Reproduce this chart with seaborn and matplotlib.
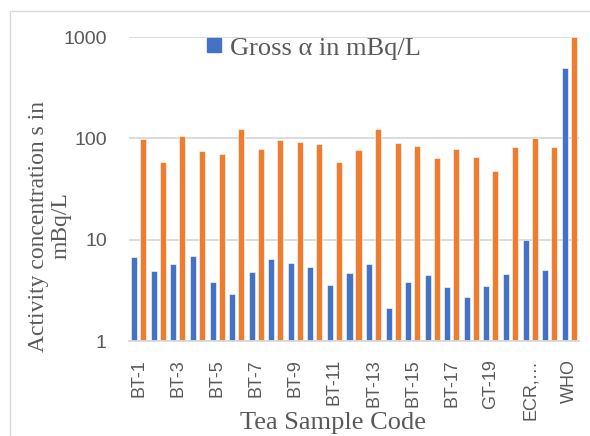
import matplotlib
matplotlib.use("Agg")
import matplotlib.pyplot as plt
import seaborn as sns
import pandas as pd
from matplotlib.patches import Rectangle
from matplotlib.lines import Line2D

categories = ["BT-1", "BT-2", "BT-3", "BT-4", "BT-5", "BT-6", "BT-7", "BT-8", "BT-9",
              "BT-10", "BT-11", "BT-12", "BT-13", "BT-14", "BT-15", "BT-16", "BT-17",
              "BT-18", "GT-19", "GT-20", "ECR,…", "ECR-2", "WHO"]
gross_alpha = [6.7, 4.9, 5.8, 6.9, 3.8, 2.9, 4.8, 6.5, 5.9, 5.4, 3.6, 4.7,
               5.8, 2.1, 3.8, 4.5, 3.4, 2.7, 3.5, 4.6, 10.0, 5.0, 500]
gross_beta = [98, 58, 105, 75, 70, 125, 78, 97, 93, 88, 59, 77,
              125, 89, 84, 64, 78, 66, 48, 83, 101, 82, 1000]
series_names = ["Gross α in mBq/L", "Gross β in mBq/L"]
colors = ["#4472C4", "#ED7D31"]

df = pd.DataFrame({
    "Sample": categories * 2,
    "Value": gross_alpha + gross_beta,
    "Series": [series_names[0]] * len(categories) + [series_names[1]] * len(categories),
})

sns.set_style("white")
fig = plt.figure(figsize=(5.9, 4.36), dpi=100)
ax = fig.add_axes([129/590, 1 - 341/436, 450/590, 304/436])

sns.barplot(data=df, x="Sample", y="Value", hue="Series", order=categories,
            hue_order=series_names, palette=colors, width=0.92, gap=0.33,
            edgecolor="white", linewidth=0.4, saturation=1, ax=ax, legend=False)
ax.set_yscale("log")
ax.set_ylim(1, 1000)
ax.set_xlim(-0.5, len(categories) - 0.5)
ax.set_yticks([1, 10, 100, 1000])
ax.set_yticklabels(["1", "10", "100", "1000"])
ax.minorticks_off()
ax.yaxis.grid(True, color="#D9D9D9", linewidth=1.3)
ax.set_axisbelow(True)
for s in ["left", "right", "top"]:
    ax.spines[s].set_visible(False)
ax.spines["bottom"].set_color("#D9D9D9")
ax.spines["bottom"].set_linewidth(1.3)

ticks = list(range(0, len(categories), 2))
ax.set_xticks(ticks)
ax.set_xticklabels([categories[i] for i in ticks], rotation=90,
                   fontfamily="Liberation Sans", fontsize=13, color="#595959",
                   va="top", ha="center")
ax.tick_params(axis="x", length=0, pad=13)
ax.tick_params(axis="y", length=0, pad=16, labelsize=14, labelcolor="#595959")
for t in ax.get_yticklabels():
    t.set_fontfamily("Liberation Sans")

ax.set_xlabel("")
ax.set_ylabel("")
fig.text(333/590, 1 - 423/436, "Tea Sample Code", ha="center", va="center",
         fontfamily="Liberation Serif", fontsize=19, color="#595959")
fig.text(50/590, 1 - 226/436, "Activity concentration s in\nmBq/L", ha="center",
         va="center", rotation=90, multialignment="center",
         fontfamily="Liberation Serif", fontsize=17, color="#595959", linespacing=1.1)

handle = Line2D([], [], marker="s", linestyle="none", markersize=9.5,
                markerfacecolor=colors[0], markeredgecolor=colors[0])
fig.legend([handle], [series_names[0]], loc="center", bbox_to_anchor=(312/590, 1 - 48/436),
           frameon=False, prop={"family": "Liberation Serif", "size": 19},
           labelcolor="#595959", handletextpad=0.2, handlelength=0.8)

fig.add_artist(Rectangle((10/590, -0.1), 1.2, 1 - 11/436 + 0.1, transform=fig.transFigure,
                         fill=False, edgecolor="#D9D9D9", linewidth=1))

fig.savefig("out.png", dpi=100)
